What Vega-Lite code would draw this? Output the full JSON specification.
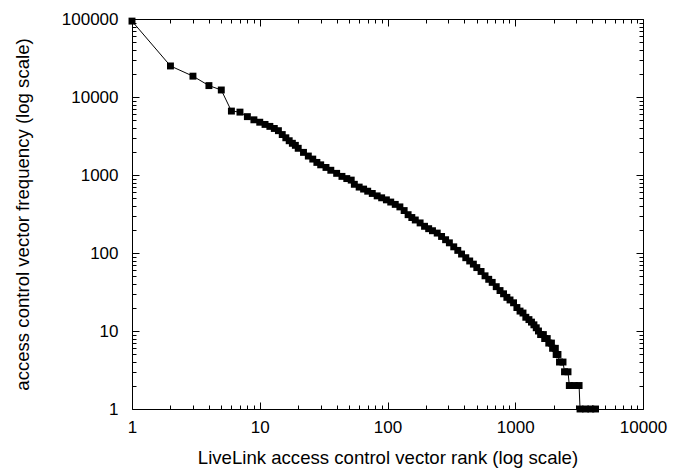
{
  "$schema": "https://vega.github.io/schema/vega-lite/v6.json",
  "width": 511,
  "height": 390,
  "autosize": "none",
  "padding": {"left": 132, "top": 19, "right": 32, "bottom": 59},
  "background": "white",
  "config": {
    "view": {"stroke": "black", "strokeWidth": 1},
    "font": "Liberation Sans",
    "axis": {
      "labelFont": "Liberation Sans",
      "titleFont": "Liberation Sans",
      "labelFontSize": 17,
      "titleFontSize": 18.6,
      "titleFontWeight": "normal",
      "labelColor": "black",
      "titleColor": "black",
      "tickColor": "black",
      "domain": false,
      "grid": false
    }
  },
  "data": {
    "values": [
      {"rank": 1, "freq": 94000}, {"rank": 2, "freq": 25000}, {"rank": 3, "freq": 18500}, {"rank": 4, "freq": 14000},
      {"rank": 5, "freq": 12300}, {"rank": 6, "freq": 6600}, {"rank": 7, "freq": 6400}, {"rank": 8, "freq": 5600},
      {"rank": 9, "freq": 5100}, {"rank": 10, "freq": 4750}, {"rank": 11, "freq": 4450}, {"rank": 12, "freq": 4200},
      {"rank": 13, "freq": 3950}, {"rank": 14, "freq": 3700}, {"rank": 15, "freq": 3300}, {"rank": 16, "freq": 3000},
      {"rank": 17, "freq": 2750}, {"rank": 18, "freq": 2550}, {"rank": 19, "freq": 2400}, {"rank": 20, "freq": 2200},
      {"rank": 22, "freq": 1950}, {"rank": 24, "freq": 1750}, {"rank": 26, "freq": 1600}, {"rank": 28, "freq": 1450},
      {"rank": 30, "freq": 1350}, {"rank": 33, "freq": 1250}, {"rank": 36, "freq": 1150}, {"rank": 40, "freq": 1050},
      {"rank": 44, "freq": 960}, {"rank": 48, "freq": 900}, {"rank": 52, "freq": 860}, {"rank": 55, "freq": 760},
      {"rank": 60, "freq": 700}, {"rank": 65, "freq": 660}, {"rank": 70, "freq": 620}, {"rank": 76, "freq": 580},
      {"rank": 83, "freq": 540}, {"rank": 90, "freq": 510}, {"rank": 98, "freq": 480}, {"rank": 106, "freq": 450},
      {"rank": 115, "freq": 420}, {"rank": 125, "freq": 390}, {"rank": 135, "freq": 350}, {"rank": 145, "freq": 310},
      {"rank": 155, "freq": 285}, {"rank": 165, "freq": 265}, {"rank": 180, "freq": 243}, {"rank": 195, "freq": 220},
      {"rank": 210, "freq": 205}, {"rank": 225, "freq": 193}, {"rank": 245, "freq": 180}, {"rank": 265, "freq": 163},
      {"rank": 285, "freq": 148}, {"rank": 305, "freq": 135}, {"rank": 330, "freq": 120}, {"rank": 355, "freq": 108},
      {"rank": 380, "freq": 97}, {"rank": 410, "freq": 87}, {"rank": 440, "freq": 79}, {"rank": 470, "freq": 72},
      {"rank": 500, "freq": 65}, {"rank": 540, "freq": 58}, {"rank": 580, "freq": 51}, {"rank": 620, "freq": 46},
      {"rank": 660, "freq": 42}, {"rank": 710, "freq": 37}, {"rank": 760, "freq": 33}, {"rank": 810, "freq": 30},
      {"rank": 860, "freq": 27}, {"rank": 910, "freq": 25}, {"rank": 970, "freq": 23}, {"rank": 1030, "freq": 20},
      {"rank": 1090, "freq": 18}, {"rank": 1150, "freq": 17}, {"rank": 1210, "freq": 15}, {"rank": 1280, "freq": 14},
      {"rank": 1340, "freq": 13}, {"rank": 1400, "freq": 12}, {"rank": 1460, "freq": 11}, {"rank": 1520, "freq": 10},
      {"rank": 1580, "freq": 9}, {"rank": 1660, "freq": 9}, {"rank": 1700, "freq": 8}, {"rank": 1780, "freq": 8},
      {"rank": 1830, "freq": 7}, {"rank": 1920, "freq": 7}, {"rank": 1960, "freq": 6}, {"rank": 2060, "freq": 6},
      {"rank": 2090, "freq": 5}, {"rank": 2160, "freq": 5}, {"rank": 2220, "freq": 4}, {"rank": 2365, "freq": 4},
      {"rank": 2430, "freq": 3}, {"rank": 2588, "freq": 3}, {"rank": 2650, "freq": 2}, {"rank": 2900, "freq": 2},
      {"rank": 3160, "freq": 2}, {"rank": 3215, "freq": 1}, {"rank": 3550, "freq": 1}, {"rank": 3900, "freq": 1},
      {"rank": 4250, "freq": 1}
    ]
  },
  "resolve": {"axis": {"x": "independent", "y": "independent"}},
  "layer": [
    {
      "mark": {"type": "line", "color": "black", "strokeWidth": 1},
      "encoding": {
        "x": {
          "field": "rank", "type": "quantitative",
          "scale": {"type": "log", "domain": [1, 10000], "nice": false},
          "axis": {
            "orient": "bottom",
            "title": "LiveLink access control vector rank (log scale)",
            "values": [1,2,3,4,5,6,7,8,9,10,20,30,40,50,60,70,80,90,100,200,300,400,500,600,700,800,900,1000,2000,3000,4000,5000,6000,7000,8000,9000,10000],
            "format": "d",
            "labelExpr": "abs(log(datum.value)/LN10 - round(log(datum.value)/LN10)) < 0.000001 ? datum.label : ''",
            "tickSize": {"condition": {"test": "abs(log(datum.value)/LN10 - round(log(datum.value)/LN10)) < 0.000001", "value": -7}, "value": -4},
            "labelPadding": 17,
            "labelFlush": false,
            "labelOverlap": false,
            "titlePadding": 10
          }
        },
        "y": {
          "field": "freq", "type": "quantitative",
          "scale": {"type": "log", "domain": [1, 100000], "nice": false},
          "axis": {
            "orient": "left",
            "title": "access control vector frequency (log scale)",
            "values": [1,2,3,4,5,6,7,8,9,10,20,30,40,50,60,70,80,90,100,200,300,400,500,600,700,800,900,1000,2000,3000,4000,5000,6000,7000,8000,9000,10000,20000,30000,40000,50000,60000,70000,80000,90000,100000],
            "format": "d",
            "labelExpr": "abs(log(datum.value)/LN10 - round(log(datum.value)/LN10)) < 0.000001 ? datum.label : ''",
            "tickSize": {"condition": {"test": "abs(log(datum.value)/LN10 - round(log(datum.value)/LN10)) < 0.000001", "value": -7}, "value": -4},
            "labelPadding": 21,
            "labelFlush": false,
            "labelOverlap": false,
            "titlePadding": 29
          }
        }
      }
    },
    {
      "mark": {"type": "point", "shape": "square", "filled": true, "color": "black", "size": 48, "opacity": 1},
      "encoding": {
        "x": {"field": "rank", "type": "quantitative", "scale": {"type": "log", "domain": [1, 10000], "nice": false},
          "axis": {
            "orient": "top", "title": null, "labels": false,
            "values": [1,2,3,4,5,6,7,8,9,10,20,30,40,50,60,70,80,90,100,200,300,400,500,600,700,800,900,1000,2000,3000,4000,5000,6000,7000,8000,9000,10000],
            "tickSize": {"condition": {"test": "abs(log(datum.value)/LN10 - round(log(datum.value)/LN10)) < 0.000001", "value": -7}, "value": -4}
          }
        },
        "y": {"field": "freq", "type": "quantitative", "scale": {"type": "log", "domain": [1, 100000], "nice": false},
          "axis": {
            "orient": "right", "title": null, "labels": false,
            "values": [1,2,3,4,5,6,7,8,9,10,20,30,40,50,60,70,80,90,100,200,300,400,500,600,700,800,900,1000,2000,3000,4000,5000,6000,7000,8000,9000,10000,20000,30000,40000,50000,60000,70000,80000,90000,100000],
            "tickSize": {"condition": {"test": "abs(log(datum.value)/LN10 - round(log(datum.value)/LN10)) < 0.000001", "value": -7}, "value": -4}
          }
        }
      }
    }
  ]
}
